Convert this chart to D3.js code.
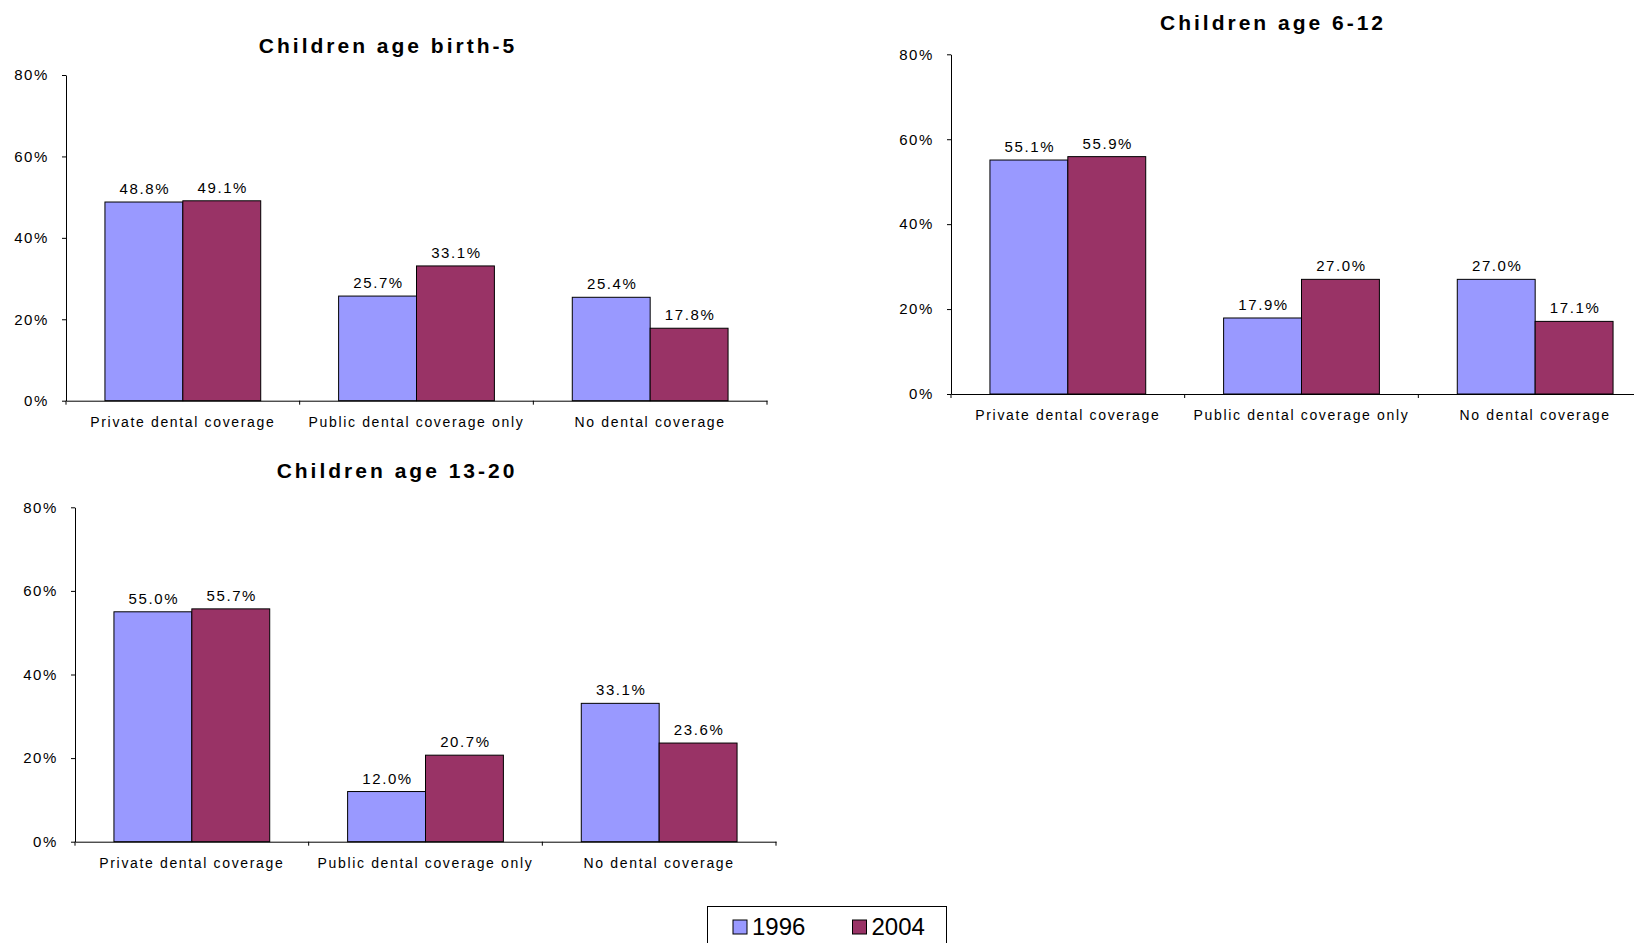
<!DOCTYPE html>
<html>
<head>
<meta charset="utf-8">
<script src="https://cdn.jsdelivr.net/npm/d3@7"></script>
<style>
  html, body { margin: 0; padding: 0; background: #fff; overflow: hidden; }
  svg { display: block; font-family: "Liberation Sans", Arial, sans-serif; }
</style>
</head>
<body>
<svg id="chart" width="1634" height="943"></svg>
<script>
// ---- data ----
const categories = ["Private dental coverage", "Public dental coverage only", "No dental coverage"];
const seriesNames = ["1996", "2004"];
const yTicks = [0, 20, 40, 60, 80];

const titleBirth5 = "Children age birth-5";
const birth5_1996 = [48.8, 25.7, 25.4];
const birth5_2004 = [49.1, 33.1, 17.8];

const title6to12 = "Children age 6-12";
const age6to12_1996 = [55.1, 17.9, 27.0];
const age6to12_2004 = [55.9, 27.0, 17.1];

const title13to20 = "Children age 13-20";
const age13to20_1996 = [55.0, 12.0, 33.1];
const age13to20_2004 = [55.7, 20.7, 23.6];

// ---- styles ----
const colors = { "1996": "#9999FF", "2004": "#993366" };

// ---- layout ----
const panels = [
  { title: titleBirth5, s1: birth5_1996, s2: birth5_2004,
    x0: 66, x1: 767, yTop: 75, yBot: 400.7, tx: 388, ty: 45 },
  { title: title6to12, s1: age6to12_1996, s2: age6to12_2004,
    x0: 951, x1: 1652, yTop: 54.3, yBot: 394, tx: 1273, ty: 22 },
  { title: title13to20, s1: age13to20_1996, s2: age13to20_2004,
    x0: 75, x1: 776, yTop: 507.3, yBot: 841.7, tx: 397, ty: 470 }
];

const svg = d3.select("#chart");

panels.forEach(p => {
  const g = svg.append("g");
  const x = d3.scaleBand().domain(categories).range([p.x0, p.x1]).padding(0);
  const bw = x.bandwidth();
  const xs = d3.scaleBand().domain(seriesNames).range([bw / 6, bw * 5 / 6]).padding(0);
  const y = d3.scaleLinear().domain([0, 80]).range([p.yBot, p.yTop]);

  // title
  g.append("text")
    .attr("x", p.tx).attr("y", p.ty)
    .attr("text-anchor", "middle").attr("dominant-baseline", "central")
    .attr("font-size", 21).attr("font-weight", "bold")
    .attr("letter-spacing", "3px")
    .attr("fill", "#000")
    .text(p.title);

  // bars
  const rows = categories.map((c, i) => ({ cat: c, vals: [
    { s: "1996", v: p.s1[i] }, { s: "2004", v: p.s2[i] } ] }));
  const grp = g.selectAll("g.cat").data(rows).join("g")
    .attr("transform", d => `translate(${x(d.cat)},0)`);
  grp.selectAll("rect").data(d => d.vals).join("rect")
    .attr("x", d => xs(d.s))
    .attr("y", d => y(d.v))
    .attr("width", xs.bandwidth())
    .attr("height", d => y(0) - y(d.v))
    .attr("fill", d => colors[d.s])
    .attr("stroke", "#000").attr("stroke-width", 1);
  grp.selectAll("text.val").data(d => d.vals).join("text")
    .attr("class", "val")
    .attr("x", d => xs(d.s) + xs.bandwidth() / 2 + 1)
    .attr("y", d => y(d.v) - 8)
    .attr("text-anchor", "middle")
    .attr("font-size", 15).attr("letter-spacing", "1.6px")
    .attr("fill", "#000")
    .text(d => d.v.toFixed(1) + "%");

  // y axis
  const ya = g.append("g").attr("transform", `translate(${p.x0},0)`)
    .call(d3.axisLeft(y).tickValues(yTicks).tickFormat(d => d + "%").tickSize(4).tickSizeOuter(0).tickPadding(13));
  ya.selectAll("text").attr("font-size", 15).attr("letter-spacing", "1.6px")
    .attr("fill", "#000").attr("font-family", "Liberation Sans, Arial, sans-serif");
  ya.selectAll("line, path").attr("stroke", "#000");

  // x axis
  const xa = g.append("g").attr("transform", `translate(0,${p.yBot})`)
    .call(d3.axisBottom(x).tickSize(0).tickSizeOuter(0).tickPadding(16));
  xa.selectAll("text").attr("font-size", 14).attr("letter-spacing", "1.65px")
    .attr("fill", "#000").attr("font-family", "Liberation Sans, Arial, sans-serif");
  xa.select("path").attr("stroke", "#000");
  const bounds = categories.map(c => x(c)).concat([x.range()[1]]);
  g.selectAll("line.bt").data(bounds).join("line")
    .attr("class", "bt")
    .attr("x1", d => d).attr("x2", d => d)
    .attr("y1", p.yBot).attr("y2", p.yBot + 4)
    .attr("stroke", "#000");
});

// legend
const lg = svg.append("g");
lg.append("rect").attr("x", 707.5).attr("y", 906.5).attr("width", 239).attr("height", 60)
  .attr("fill", "#fff").attr("stroke", "#000");
const litems = lg.selectAll("g.li").data(seriesNames).join("g")
  .attr("transform", (d, i) => `translate(${733 + i * 119.5},0)`);
litems.append("rect").attr("x", 0).attr("y", 920).attr("width", 14).attr("height", 14)
  .attr("fill", d => colors[d]).attr("stroke", "#000");
litems.append("text").attr("x", 19).attr("y", 935)
  .attr("font-size", 24).attr("fill", "#000").text(d => d);
</script>
</body>
</html>
